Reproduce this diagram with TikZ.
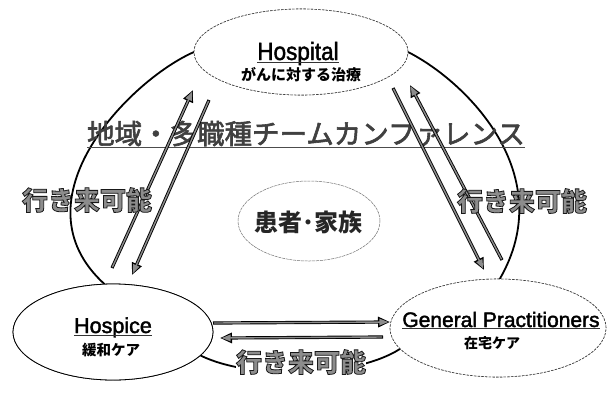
\documentclass[tikz,border=0pt]{standalone}
\usepackage{fontspec}
\setmainfont{Liberation Sans}
\newfontfamily\jp{Noto Sans CJK JP}
\usetikzlibrary{shapes.geometric,arrows.meta}
\newcommand{\outlinetext}[1]{\special{pdf:literal direct 2 Tr 0.8 w 0.1 G}#1\special{pdf:literal direct 0 Tr}}
\newcommand{\embold}[2]{\special{pdf:literal direct 2 Tr #1 w}#2\special{pdf:literal direct 0 Tr}}
\tikzset{
  bigline/.style={line width=1.8pt, black},
  nodeell/.style={ellipse, inner sep=0pt, outer sep=0pt, fill=white},
  dashell/.style={nodeell, draw=black!75, line width=0.6pt, dash pattern=on 2.5pt off 1.2pt},
  solidell/.style={nodeell, draw=black, line width=0.8pt},
  centerell/.style={nodeell, draw=black!55, line width=0.5pt, dash pattern=on 3pt off 0.8pt},
  engl/.style={inner sep=0pt, anchor=base, font=\fontsize{21.5}{24}\selectfont},
  sub/.style={inner sep=0pt, font=\jp\bfseries\fontsize{15}{17}\selectfont},
  uline/.style={line width=0.8pt, black!80},
  title/.style={inner sep=0pt, anchor=base, text=black!75, font=\jp\fontsize{27.5}{30}\selectfont},
  ikiki/.style={inner sep=0pt, text=black!45, font=\jp\bfseries\fontsize{26}{28}\selectfont},
  arrO/.style={line width=3.2pt, black, -{Triangle[length=12pt,width=10pt]}},
  arrI/.style={line width=1.4pt, black!45, -{Triangle[length=9pt,width=6.5pt]}, shorten >=1.6pt, shorten <=0.9pt},
}
\begin{document}
\begin{tikzpicture}[x=1pt,y=-1pt]
\useasboundingbox[fill=white] (0,0) rectangle (609,394);

% node ellipses (positions)
\node[dashell, minimum width=214pt, minimum height=86pt] (hosp) at (301,52) {};
\node[solidell, minimum width=200pt, minimum height=96pt] (hospice) at (113,332) {};
\node[dashell, minimum width=216pt, minimum height=98pt] (gp) at (498,328) {};

% big outline arcs
\draw[bigline] (hosp.180) .. controls (130,80) and (12,200) .. (hospice.100);
\draw[bigline] (hosp.0) .. controls (467,82) and (560,175) .. (gp.88);
\draw[bigline] (hospice.-15) .. controls (250,380) and (355,378) .. (gp.192);

% redraw node ellipses on top
\node[dashell, minimum width=214pt, minimum height=86pt] at (301,52) {};
\node[solidell, minimum width=200pt, minimum height=96pt] at (113,332) {};
\node[dashell, minimum width=216pt, minimum height=98pt] at (498,328) {};

% node texts
\node[engl, font=\addfontfeature{FakeStretch=0.9}\fontsize{25}{27}\selectfont] (hospt) at (298,60) {\embold{0.4}{Hospital}};
\draw[uline] ([yshift=-2pt]hospt.base west) -- ([yshift=-2pt]hospt.base east);
\node[sub] (hosps) at (301,75) {がんに対する治療};

\node[engl] (hospicet) at (113,333) {\embold{0.4}{Hospice}};
\draw[uline] ([yshift=-2.5pt]hospicet.base west) -- ([yshift=-2.5pt]hospicet.base east);
\node[sub, font=\jp\bfseries\fontsize{14.5}{16}\selectfont] (hospices) at (111,350) {緩和ケア};

\node[engl, font=\fontsize{21}{23}\selectfont] (gpt) at (501,327) {\embold{0.4}{General Practitioners}};
\draw[uline] ([yshift=-1.5pt]gpt.base west) -- ([yshift=-1.5pt]gpt.base east);
\node[sub, font=\jp\bfseries\fontsize{14}{16}\selectfont] (gps) at (492,343) {在宅ケア};

% center ellipse
\node[centerell, minimum width=142pt, minimum height=80pt] (pat) at (309,221) {};
\node[inner sep=0pt, text=black!85, font=\jp\bfseries\fontsize{24}{26}\selectfont] (patt) at (308,222) {患者･家族};

% title
\node[title] (ttl) at (306,144) {\embold{0.6}{地域・多職種チームカンファレンス}};
\draw[line width=0.8pt, black!70] ([yshift=-3.5pt]ttl.base west) -- ([yshift=-3.5pt]ttl.base east);

% arrow end points
\coordinate (a1s) at (112,268); \coordinate (a1e) at (193,90);
\coordinate (a2s) at (209,100); \coordinate (a2e) at (132,275);
\coordinate (a3s) at (393,88);  \coordinate (a3e) at (484,270);
\coordinate (a4s) at (502,260); \coordinate (a4e) at (410,85);
\coordinate (a5s) at (213,323); \coordinate (a5e) at (390,322);
\coordinate (a6s) at (383,337); \coordinate (a6e) at (220,338);

\foreach \i in {1,...,6} {
  \draw[arrO] (a\i s) -- (a\i e);
  \draw[arrI] (a\i s) -- (a\i e);
}

% labels
\node[ikiki] (ik1) at (87,200) {\outlinetext{行き来可能}};
\node[ikiki] (ik2) at (522,201) {\outlinetext{行き来可能}};
\node[ikiki, fill=white] (ik3) at (301,362) {\outlinetext{行き来可能}};
\end{tikzpicture}
\end{document}
